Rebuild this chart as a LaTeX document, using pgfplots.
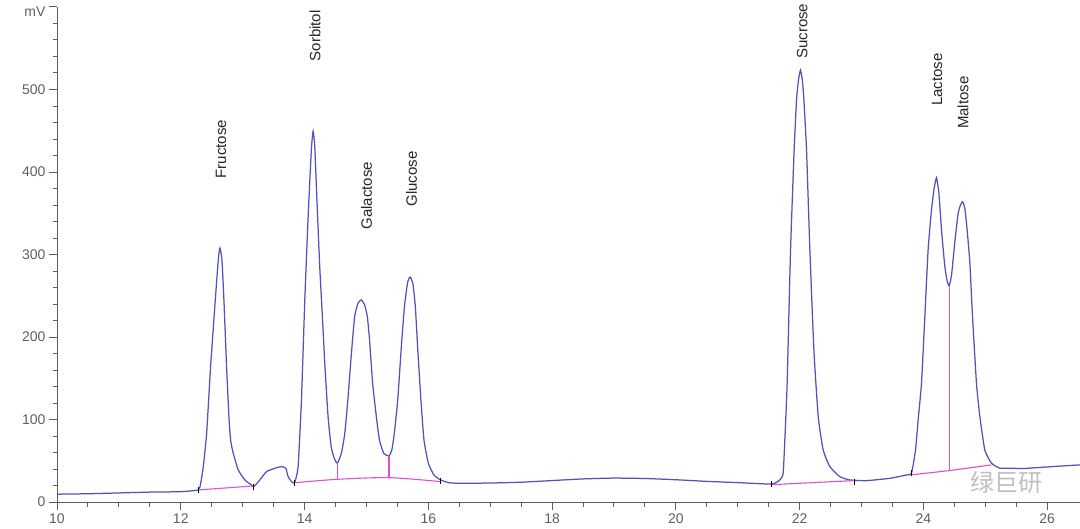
\documentclass[border=0pt]{standalone}
\usepackage{fontspec}
\setmainfont{Liberation Sans}
\newfontfamily\cjk{Noto Sans CJK SC}
\usepackage{pgfplots}
\pgfplotsset{compat=1.18}
\definecolor{curve}{RGB}{82,82,185}
\definecolor{pinkline}{RGB}{222,80,210}
\definecolor{axisgray}{RGB}{95,95,95}
\begin{document}
\begin{tikzpicture}
\begin{axis}[name=ax, scale only axis, width=1023pt, height=495pt,
  xmin=10, xmax=26.53, ymin=0, ymax=600,
  axis lines*=left,
  axis line style={axisgray, line width=1pt},
  xtick={10,12,...,26}, minor x tick num=3,
  ytick={0,100,...,600}, yticklabels={0,100,200,300,400,500,\smash{\raisebox{-10pt}{mV}}},
  minor y tick num=4,
  tick align=outside, major tick length=8pt, minor tick length=4.5pt,
  tick style={axisgray, line width=1pt},
  tick label style={font=\fontsize{14}{16}\selectfont, text=axisgray},
  /pgf/number format/assume math mode=true,
  clip=false]
% chromatogram signal
\addplot[curve, line width=1.25pt, smooth, tension=0.3] coordinates {
(10.00,9.5) (10.50,10.0) (11.00,11.0) (11.50,12.0) (11.99,12.5) (12.28,14.6)
(12.32,22) (12.364,42.9) (12.418,83.3) (12.48,162) (12.55,237) (12.606,293.7)
(12.633,307.8) (12.665,293.7) (12.697,245) (12.74,164) (12.778,103.5) (12.805,75)
(12.848,59) (12.929,38.8) (13.036,26.7) (13.144,20.6) (13.18,18.6) (13.277,26.7)
(13.385,36.8) (13.52,40.9) (13.627,42.9) (13.697,40.9) (13.735,30.7) (13.79,24.6)
(13.84,23.4) (13.896,42.9) (13.95,124) (14.004,245) (14.058,346) (14.11,427)
(14.138,449.4) (14.165,431) (14.2,366) (14.245,285.6) (14.288,225) (14.33,164)
(14.38,103.5) (14.43,67) (14.48,53) (14.53,47) (14.595,59) (14.65,83) (14.70,124)
(14.757,180) (14.81,225) (14.864,241) (14.918,245) (14.97,239) (15.014,225)
(15.05,196.6) (15.1,144) (15.16,103.5) (15.21,75) (15.28,59) (15.365,55.8)
(15.41,63) (15.45,83) (15.506,124) (15.56,184) (15.614,237) (15.668,267)
(15.706,272.7) (15.75,265) (15.79,237) (15.83,184) (15.88,124) (15.93,75)
(16.0,47) (16.09,32.8) (16.2,26.7) (16.335,23.4) (16.5,22.7) (17.0,23) (17.5,24)
(18.0,26) (18.5,28) (19.0,29) (19.5,28.5) (20.0,27) (20.5,25) (21.0,23.5)
(21.546,21.8) (21.68,26.7) (21.733,34.8) (21.765,83) (21.798,144) (21.853,305.8)
(21.911,427) (21.95,488) (21.982,512) (22.014,523.5) (22.046,510) (22.068,488)
(22.111,427) (22.165,305.8) (22.23,184.5) (22.3,103.6) (22.38,63.1) (22.488,42.9)
(22.65,30.7) (22.81,26.7) (23.08,25.9) (23.457,28.7) (23.727,32.8) (23.807,34.8)
(23.872,63) (23.915,100) (23.969,144) (24.023,225) (24.076,306) (24.13,354)
(24.173,380) (24.211,393) (24.249,375) (24.292,330) (24.345,286) (24.383,268)
(24.415,262) (24.454,275) (24.507,315) (24.561,350) (24.599,360) (24.632,364)
(24.669,356) (24.706,330) (24.75,290) (24.793,225) (24.857,144) (24.911,104)
(24.992,63) (25.1,47) (25.234,41) (25.4,41) (25.6,40.5) (25.8,41.5) (26.0,42.5)
(26.2,43.5) (26.53,45)
};
% integration baselines
\addplot[pinkline, line width=1.1pt] coordinates {(12.28,14.6) (13.18,19.5)};
\addplot[pinkline, line width=1.1pt, smooth] coordinates {(13.855,23.4) (14.53,27.5) (15.365,29.5) (16.2,24.7)};
\addplot[pinkline, line width=1.1pt] coordinates {(21.546,21) (22.89,26)};
\addplot[pinkline, line width=1.1pt] coordinates {(23.807,33) (24.415,38) (25.09,44.9)};
% drop lines
\addplot[pinkline, line width=1.1pt] coordinates {(14.53,27.5) (14.53,47)};
\addplot[pinkline, line width=1.1pt] coordinates {(15.365,29.5) (15.365,55.8)};
\addplot[pinkline, line width=1.1pt] coordinates {(24.415,38) (24.415,262)};
% peak start/end markers
\addplot[only marks, mark=|, mark size=3pt, mark options={black, line width=0.9pt}] coordinates {
(12.28,14.6) (13.18,18.6) (13.84,23.4) (16.2,25.7) (21.546,21.8) (22.89,24) (23.807,34.8)};
% labels
\node[rotate=90, anchor=west, font=\fontsize{15}{17}\selectfont, text=black!85] at (axis cs:12.65,388) {Fructose};
\node[rotate=90, anchor=west, font=\fontsize{15}{17}\selectfont, text=black!85] at (axis cs:14.17,530) {Sorbitol};
\node[rotate=90, anchor=west, font=\fontsize{15}{17}\selectfont, text=black!85] at (axis cs:15.0,326) {Galactose};
\node[rotate=90, anchor=west, font=\fontsize{15}{17}\selectfont, text=black!85] at (axis cs:15.73,354) {Glucose};
\node[rotate=90, anchor=west, font=\fontsize{15}{17}\selectfont, text=black!85] at (axis cs:22.04,533) {Sucrose};
\node[rotate=90, anchor=west, font=\fontsize{15}{17}\selectfont, text=black!85] at (axis cs:24.22,476) {Lactose};
\node[rotate=90, anchor=west, font=\fontsize{15}{17}\selectfont, text=black!85] at (axis cs:24.64,448) {Maltose};
% watermark
\node[font=\cjk\fontsize{24}{26}\selectfont, text=black!25] at (axis cs:25.35,24) {绿巨研};
\end{axis}
\pgfresetboundingbox
\path[use as bounding box] ([xshift=-57pt,yshift=-26pt]ax.south west) rectangle ([yshift=7pt]ax.north east);
\end{tikzpicture}
\end{document}
